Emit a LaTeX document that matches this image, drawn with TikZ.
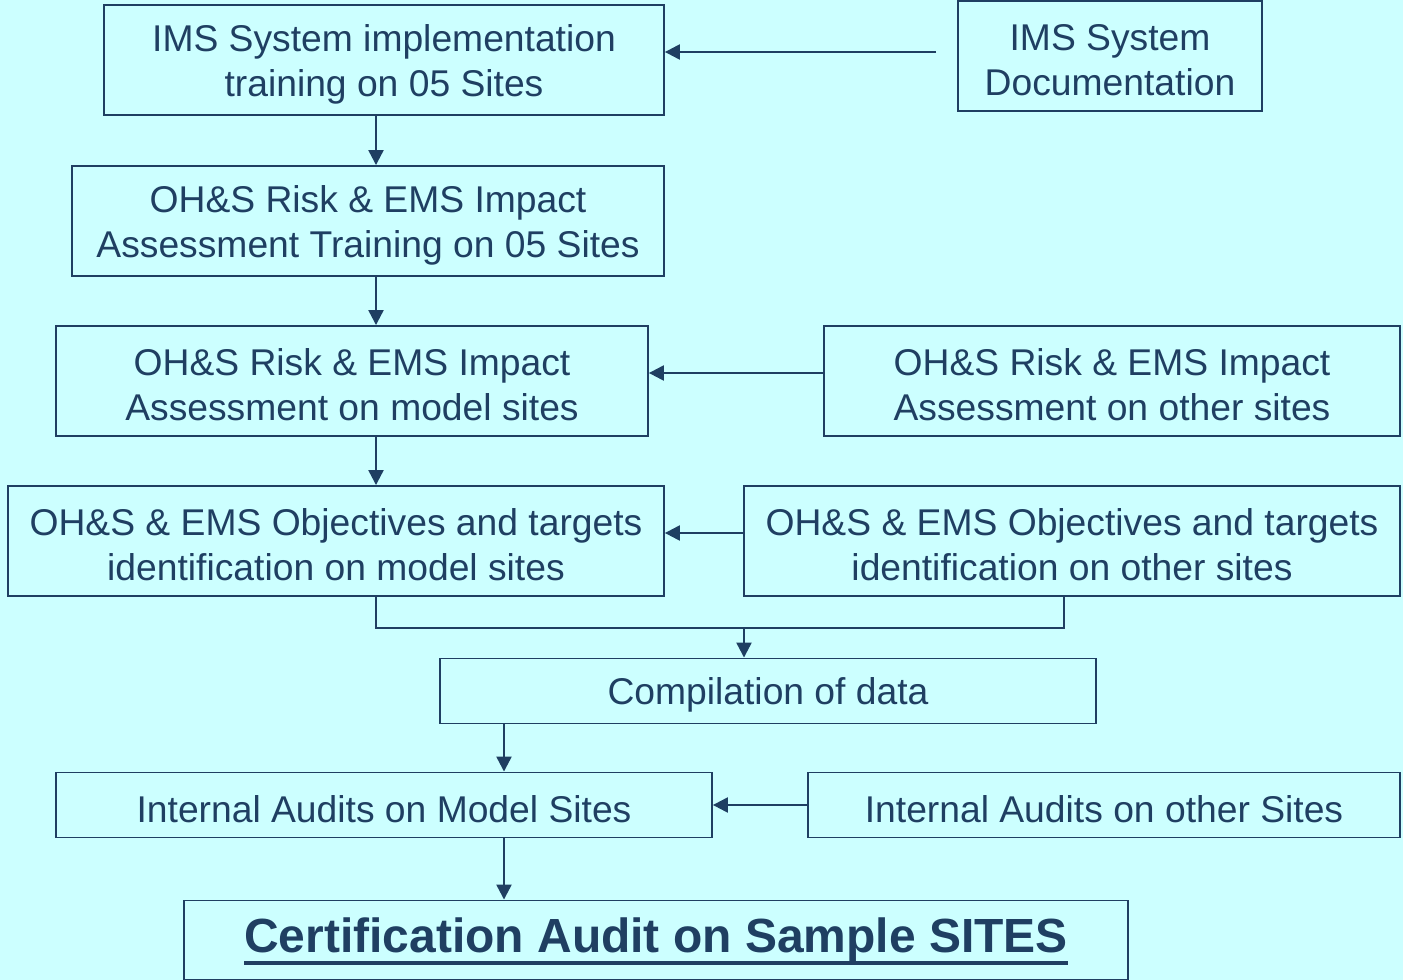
\documentclass[tikz,border=0pt]{standalone}
\usepackage{fontspec}
\setmainfont{Liberation Sans}
\usetikzlibrary{positioning,arrows.meta,calc}
\definecolor{bgcyan}{HTML}{CCFFFF}
\definecolor{navy}{HTML}{1F3F62}
\newcommand{\thickul}[1]{\setbox0\hbox{#1}\rlap{\vrule height -4.8pt depth 6.9pt width \wd0}\box0}
\tikzset{
box/.style={
  draw=navy,
  line width=1.1pt,
  rectangle,
  align=center,
  text=navy,
  inner sep=0pt,
  minimum height=2.2cm,
  text height=45.4pt,
  font=\fontsize{21.2}{25.6}\selectfont
},
lowbox/.style={box, minimum height=1.3cm, text height=19.8pt},
flow/.style={draw=navy, line width=1.3pt, -{Triangle[length=0.3cm,width=0.3cm]}},
joinline/.style={draw=navy, line width=1.3pt},
}

\begin{document}
\begin{tikzpicture}[x=0.02cm,y=-0.02cm]
            \fill[bgcyan] (0,0) rectangle (1403,980);
            \useasboundingbox (0,0) rectangle (1403,980);

            \node[box, minimum width=11.2cm]  (impl)   at (384,60)  {IMS System implementation\\training on 05 Sites};
            \node[box, minimum width=6.08cm]  (doc)    at (1110,56) {IMS System\\Documentation};
            \node[box, minimum width=11.84cm] (train)  at (368,221) {OH\&S Risk \& EMS Impact\\Assessment Training on 05 Sites};
            \node[box, minimum width=11.84cm] (modrisk) at (352,381) {OH\&S Risk \& EMS Impact\\Assessment on model sites};
            \node[box, minimum width=11.52cm] (othrisk) at (1112,381) {OH\&S Risk \& EMS Impact\\Assessment on other sites};
            \node[box, minimum width=13.12cm] (modobj) at (336,541) {OH\&S \& EMS Objectives and targets\\identification on model sites};
            \node[box, minimum width=13.12cm] (othobj) at (1072,541) {OH\&S \& EMS Objectives and targets\\identification on other sites};
            \node[lowbox, minimum width=13.12cm] (comp)  at (768,691) {Compilation of data};
            \node[lowbox, minimum width=13.12cm] (modaud) at (384,805) {Internal Audits on Model Sites};
            \node[lowbox, minimum width=11.84cm] (othaud) at (1104,805) {Internal Audits on other Sites};
            \node[box, minimum width=18.88cm, minimum height=1.58cm, text height=21pt,
                  font=\fontsize{27.3}{32}\selectfont\bfseries] (cert) at (656,940)
                  {\thickul{Certification Audit on Sample SITES}};

            \coordinate (spine) at (376,0);
            \coordinate (spinelow) at (504,0);
            \coordinate (docout) at (936,52);
            \coordinate (join) at (744,628);

            \draw[flow] (docout) -- (docout -| impl.east);
            \draw[flow] (impl.south -| spine) -- (train.north -| spine);
            \draw[flow] (train.south -| spine) -- (modrisk.north -| spine);
            \draw[flow] ([yshift=0.16cm]othrisk.west) -- ([yshift=0.16cm]modrisk.east);
            \draw[flow] (modrisk.south -| spine) -- (modobj.north -| spine);
            \draw[flow] ([yshift=0.16cm]othobj.west) -- ([yshift=0.16cm]modobj.east);
            \draw[joinline] (modobj.south -| spine) |- (join) -| ([xshift=-0.16cm]othobj.south);
            \draw[flow] (join) -- (join |- comp.north);
            \draw[flow] (comp.south -| spinelow) -- (modaud.north -| spinelow);
            \draw[flow] (othaud.west) -- (modaud.east);
            \draw[flow] (modaud.south -| spinelow) -- (cert.north -| spinelow);
\end{tikzpicture}
\end{document}
